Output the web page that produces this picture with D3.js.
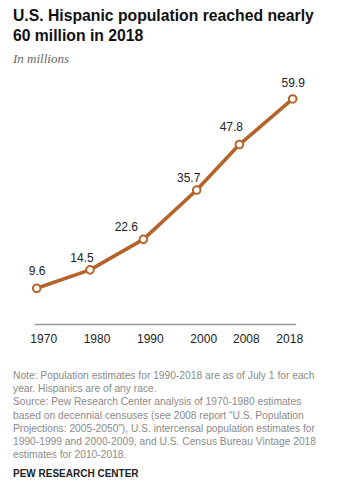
<!DOCTYPE html>
<html>
<head>
<meta charset="utf-8">
<script src="https://cdn.jsdelivr.net/npm/d3@7"></script>
<style>
  html, body { margin: 0; padding: 0; background: #fff; }
  svg { display: block; }
</style>
</head>
<body>
<svg id="chart" width="343" height="494"></svg>
<script>
const years = [1970, 1980, 1990, 2000, 2008, 2018];
const population = [9.6, 14.5, 22.6, 35.7, 47.8, 59.9];
const valueLabels = ["9.6", "14.5", "22.6", "35.7", "47.8", "59.9"];
const tickLabels = ["1970", "1980", "1990", "2000", "2008", "2018"];
const titleLines = ["U.S. Hispanic population reached nearly", "60 million in 2018"];
const subtitle = "In millions";
const noteLines = [
  "Note: Population estimates for 1990-2018 are as of July 1 for each",
  "year. Hispanics are of any race.",
  "Source: Pew Research Center analysis of 1970-1980 estimates",
  "based on decennial censuses (see 2008 report \u201cU.S. Population",
  "Projections: 2005-2050\u201d), U.S. intercensal population estimates for",
  "1990-1999 and 2000-2009, and U.S. Census Bureau Vintage 2018",
  "estimates for 2010-2018."
];
const sourceLabel = "PEW RESEARCH CENTER";

const data = years.map((y, i) => ({ year: y, value: population[i], label: valueLabels[i] }));

const svg = d3.select("#chart");
const lineColor = "#b4642a";
const sans = "'Liberation Sans', Arial, sans-serif";

// Title
const title = svg.append("g").attr("font-family", sans).attr("font-weight", "bold").attr("fill", "#111");
title.selectAll("text").data(titleLines).join("text")
  .attr("x", 13).attr("y", (d, i) => 21 + i * 20)
  .attr("font-size", 17.5)
  .text(d => d);
const t0 = title.select("text").node();
const w0 = t0.getComputedTextLength();
title.selectAll("text").attr("font-size", 17.5 * 301 / w0);

svg.append("text")
  .attr("x", 13).attr("y", 63)
  .attr("font-family", "'Liberation Serif', 'DejaVu Serif', serif")
  .attr("font-style", "italic")
  .attr("font-size", 13)
  .attr("fill", "#666")
  .text(subtitle);

// Scales
const x = d3.scaleLinear().domain([1970, 2018]).range([36.7, 292.7]);
const y = d3.scaleLinear().domain([0, 60]).range([324.4, 98.6]);

// Axis
const xAxis = d3.axisBottom(x)
  .tickValues(years)
  .tickSize(0)
  .tickPadding(0)
  .tickFormat((d, i) => tickLabels[i]);
const ax = svg.append("g").attr("transform", `translate(0,${y(0)})`).call(xAxis);
ax.select(".domain").remove();
ax.append("line")
  .attr("x1", x.range()[0] - 2).attr("x2", x.range()[1] + 3.5)
  .attr("y1", 0).attr("y2", 0)
  .attr("stroke", "#9a9a9a").attr("stroke-width", 1.5);
ax.selectAll(".tick text")
  .attr("font-family", sans)
  .attr("font-size", 12)
  .attr("fill", "#222")
  .attr("dy", 0)
  .attr("y", 18.5)
  .attr("dx", (d, i) => i === years.length - 1 ? -3.5 : 6.5);

// Line
const line = d3.line().x(d => x(d.year)).y(d => y(d.value));
svg.append("path")
  .datum(data)
  .attr("d", line)
  .attr("fill", "none")
  .attr("stroke", lineColor)
  .attr("stroke-width", 3.6)
  .attr("stroke-linejoin", "round")
  .attr("stroke-linecap", "round");

// Markers
svg.selectAll("circle.pt").data(data).join("circle")
  .attr("class", "pt")
  .attr("cx", d => x(d.year))
  .attr("cy", d => y(d.value))
  .attr("r", 3.8)
  .attr("fill", "#fff")
  .attr("stroke", lineColor)
  .attr("stroke-width", 2);

// Value labels
const n = data.length;
svg.selectAll("text.val").data(data).join("text")
  .attr("class", "val")
  .attr("x", (d, i) => x(d.year) + (i === 0 || i === n - 1 ? 0.5 : (i === 2 ? -17 : -8)))
  .attr("y", (d, i) => y(d.value) - (i === 0 || i === 4 ? 13.5 : (i === n - 1 ? 11.5 : 8)))
  .attr("text-anchor", "middle")
  .attr("font-family", sans)
  .attr("font-size", 12)
  .attr("fill", "#222")
  .text(d => d.label);

// Notes
svg.append("g").selectAll("text").data(noteLines).join("text")
  .attr("x", 13).attr("y", (d, i) => 379 + i * 13.2)
  .attr("font-family", sans)
  .attr("font-size", 10.25)
  .attr("fill", "#8a8a8a")
  .text(d => d);

svg.append("text")
  .attr("x", 13).attr("y", 476.5)
  .attr("font-family", sans)
  .attr("font-weight", "bold")
  .attr("font-size", 10)
  .attr("fill", "#222")
  .text(sourceLabel);
</script>
</body>
</html>
